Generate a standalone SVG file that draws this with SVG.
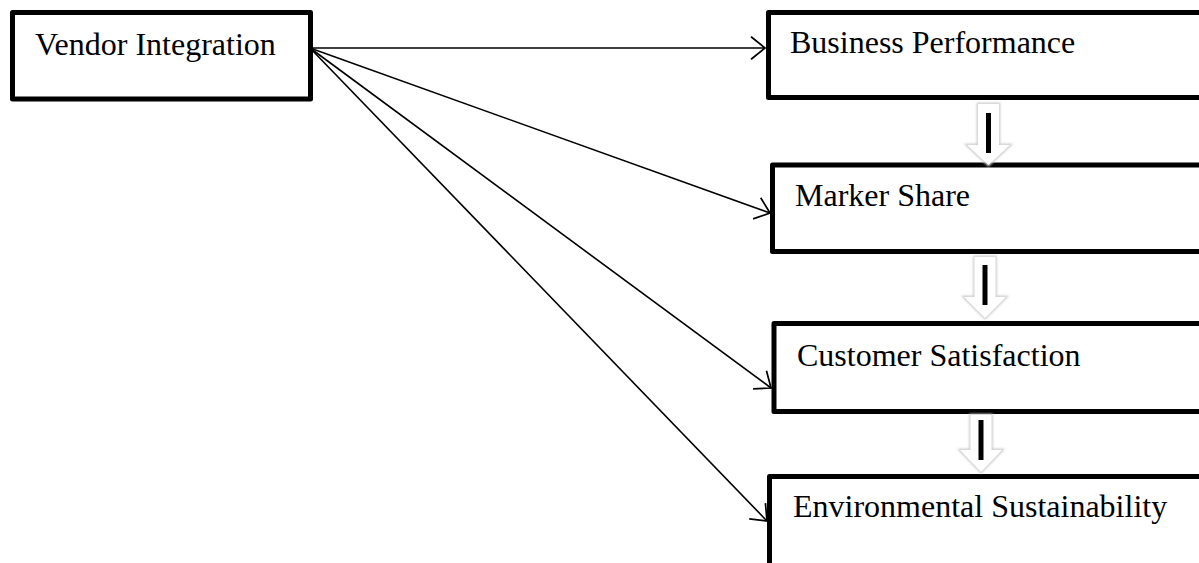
<svg xmlns="http://www.w3.org/2000/svg" width="1199" height="563" viewBox="0 0 1199 563">
<style>
.box{fill:#fff;stroke:#000;stroke-width:5;stroke-linejoin:round}
.lbl{font-family:"Liberation Serif","Times New Roman",serif;font-size:32px;fill:#000}
.conn{stroke:#000;stroke-width:1.6;fill:none;marker-end:url(#open)}
.blk{fill:#fff;stroke:none}
.shd{fill:none;stroke:#c8c8c8;stroke-width:2.5;filter:url(#soft)}
.bar{stroke:#000;stroke-width:5}
</style>
<defs>
<marker id="open" markerUnits="userSpaceOnUse" markerWidth="30" markerHeight="30" refX="0" refY="0" viewBox="-16 -14 20 28" orient="auto" overflow="visible">
<path d="M-13,-10.5 L0,0 L-13,10.5" fill="none" stroke="#000" stroke-width="1.6"/>
</marker>
<filter id="soft" x="-20%" y="-20%" width="140%" height="140%"><feGaussianBlur stdDeviation="1.2"/></filter>
</defs>
<rect width="1199" height="563" fill="#fff"/>
<g id="connectors">
<line class="conn" x1="310" y1="48" x2="765" y2="48"/>
<line class="conn" x1="310" y1="48" x2="770" y2="213"/>
<line class="conn" x1="310" y1="48" x2="771" y2="388"/>
<line class="conn" x1="310" y1="48" x2="767" y2="521"/>
</g>
<g id="node-vendor">
<rect class="box" x="12.5" y="12.5" width="298" height="86.5"/>
<text class="lbl" x="35" y="55">Vendor Integration</text>
</g>
<g id="node-business">
<rect class="box" x="768.5" y="12.5" width="460" height="85"/>
<text class="lbl" x="790" y="53">Business Performance</text>
</g>
<g id="node-market">
<rect class="box" x="772.5" y="165" width="460" height="86.5"/>
<text class="lbl" x="795" y="206">Marker Share</text>
</g>
<g id="node-customer">
<rect class="box" x="774" y="323.5" width="460" height="88"/>
<text class="lbl" x="797" y="366">Customer Satisfaction</text>
</g>
<g id="node-environment">
<rect class="box" x="769.5" y="476.5" width="460" height="120"/>
<text class="lbl" x="793" y="517">Environmental Sustainability</text>
</g>
<g id="flow-arrows">
<g id="arrow-1">
<polygon class="shd" points="978,104 999,104 999,145 1010,145 988.5,165 967,145 978,145"/>
<polygon class="blk" points="978,104 999,104 999,145 1010,145 988.5,165 967,145 978,145"/>
<line class="bar" x1="988.5" y1="113" x2="988.5" y2="153"/>
</g>
<g id="arrow-2">
<polygon class="shd" points="974.5,257 995.5,257 995.5,297 1006,297 985,318 964,297 974.5,297"/>
<polygon class="blk" points="974.5,257 995.5,257 995.5,297 1006,297 985,318 964,297 974.5,297"/>
<line class="bar" x1="985" y1="265" x2="985" y2="305"/>
</g>
<g id="arrow-3">
<polygon class="shd" points="970.5,415 991.5,415 991.5,450 1002,450 981,472 960,450 970.5,450"/>
<polygon class="blk" points="970.5,415 991.5,415 991.5,450 1002,450 981,472 960,450 970.5,450"/>
<line class="bar" x1="981" y1="420" x2="981" y2="460"/>
</g>
</g>
</svg>
